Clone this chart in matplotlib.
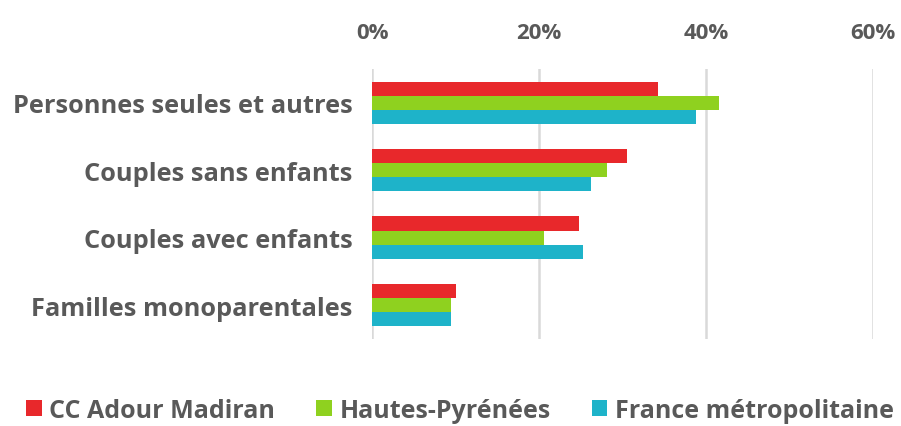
import numpy as np
import matplotlib
matplotlib.use("Agg")
import matplotlib.pyplot as plt
from matplotlib.ticker import PercentFormatter

categories = ["Personnes seules et autres", "Couples sans enfants",
              "Couples avec enfants", "Familles monoparentales"]
series = ["CC Adour Madiran", "Hautes-Pyrénées", "France métropolitaine"]
cc_adour = [34.3, 30.5, 24.8, 10.0]
hautes_pyr = [41.6, 28.1, 20.6, 9.4]
france = [38.8, 26.2, 25.3, 9.4]
colors = ["#E8282B", "#8FD11F", "#1EB3C9"]

plt.rcParams['font.family'] = ['Open Sans', 'DejaVu Sans']

fig = plt.figure(figsize=(9.01, 4.27), dpi=100)
ax = fig.add_axes([0.4129, 0.204, 0.556, 0.632])

y = np.arange(len(categories))
h = 0.21
for i, (vals, name) in enumerate(zip([cc_adour, hautes_pyr, france], series)):
    ax.barh(y + (i - 1) * h, vals, height=h, color=colors[i], label=name, zorder=3)

ax.set_xlim(0, 60)
ax.set_ylim(3.5, -0.5)
ax.set_xticks([0, 20, 40, 60])
ax.xaxis.set_major_formatter(PercentFormatter(decimals=0))
ax.xaxis.tick_top()
ax.set_yticks(y)
ax.set_yticklabels(categories)
ax.tick_params(axis='x', length=0, pad=19, labelsize=16, labelcolor="#595959")
ax.tick_params(axis='y', length=0, pad=14, labelsize=18.3, labelcolor="#595959")
for lbl in ax.get_xticklabels() + ax.get_yticklabels():
    lbl.set_fontweight('bold')
ax.grid(axis='x', color="#D9D9D9", linewidth=1.8, zorder=0)
for s in ax.spines.values():
    s.set_visible(False)

fig.legend(loc='center', bbox_to_anchor=(0.5105, 0.037), ncol=3, frameon=False,
           prop={'size': 18, 'weight': 'bold'}, labelcolor="#595959",
           handlelength=0.62, handleheight=0.62, handletextpad=0.3, columnspacing=1.65)

fig.savefig("out.png", dpi=100)
